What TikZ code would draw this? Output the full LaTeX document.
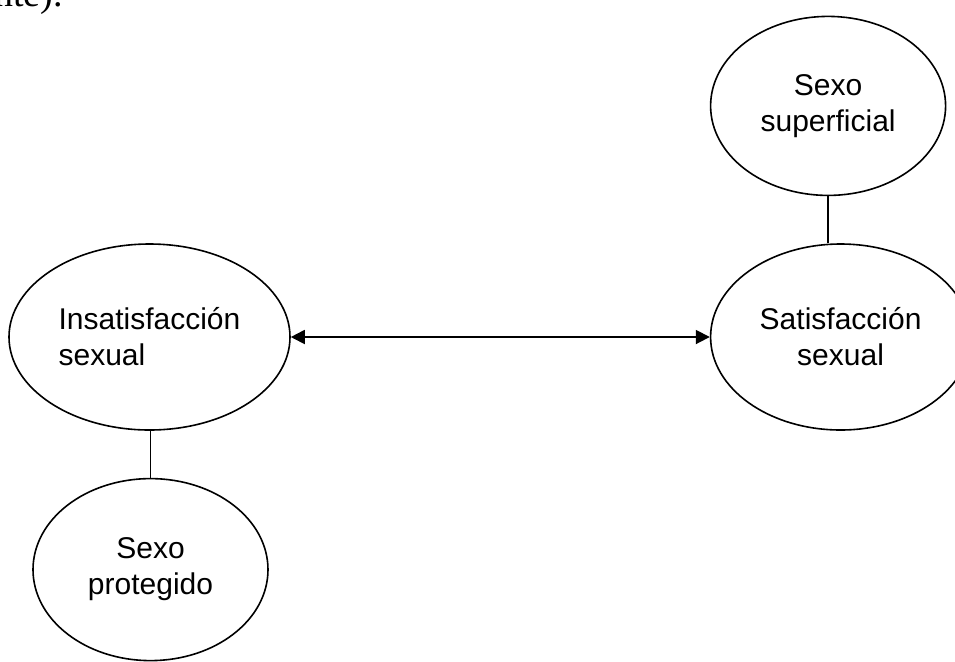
\documentclass[tikz,border=0pt]{standalone}
\usepackage{fontspec}
\setmainfont{Liberation Sans}
\newfontfamily\textserif{Liberation Serif}
\usepackage{tikz}
\usetikzlibrary{shapes.geometric,arrows.meta,positioning}

\begin{document}
\begin{tikzpicture}[node distance=23.5pt, auto,
    elip/.style={ellipse, draw=black, line width=0.8pt, inner sep=0pt, align=center, font=\fontsize{15}{18}\selectfont},
    link/.style={draw, line width=0.9pt},
    twoway/.style={draw, line width=0.9pt, {Triangle[length=7pt,width=7pt]}-{Triangle[length=7pt,width=7pt]}}]

    \useasboundingbox (0,0) rectangle (477.5pt,-330.5pt);

    % trozo de texto cortado arriba
    \node [anchor=base west, inner sep=0pt, font=\textserif\fontsize{19}{22}\selectfont] (frag) at (-3pt,-3pt) {nte).};

    \node [elip, minimum width=140.5pt, minimum height=93pt, align=left] (insat) at (74.75pt,-168.5pt) {Insatisfacción\\sexual};
    \node [elip, minimum width=130pt, minimum height=93pt, right=209.5pt of insat] (satis) {Satisfacción\\sexual};
    \node [elip, minimum width=117.5pt, minimum height=89.5pt, above=of satis, xshift=-6.25pt] (superf) {Sexo\\superficial};
    \node [elip, minimum width=117.5pt, minimum height=91pt, below=of insat, xshift=0.5pt] (proteg) {Sexo\\protegido};

    \path [twoway] (insat) -- (satis);
    \path [link] (superf) -- (superf |- satis.north);
    \path [link] (insat.south -| proteg) -- (proteg);
\end{tikzpicture}
\end{document}
